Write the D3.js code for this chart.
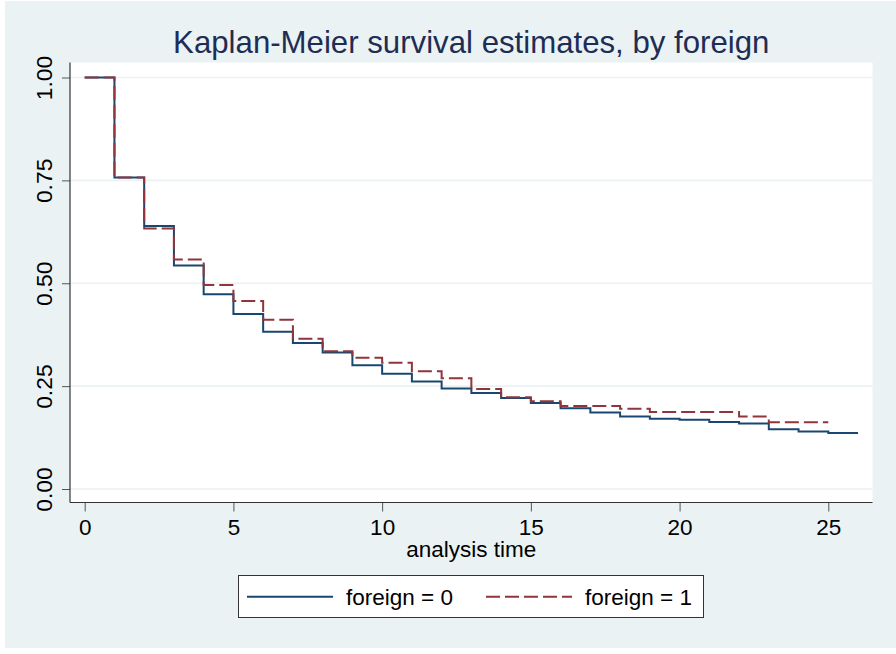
<!DOCTYPE html>
<html>
<head>
<meta charset="utf-8">
<script src="https://cdn.jsdelivr.net/npm/d3@7"></script>
<style>
  html, body { margin: 0; padding: 0; background: #ffffff; }
  svg { display: block; font-family: "Liberation Sans", Arial, Helvetica, sans-serif; }
</style>
</head>
<body>
<svg id="chart" width="896" height="654"></svg>
<script>
// ---- Data ----
const chartTitle = "Kaplan-Meier survival estimates, by foreign";
const xAxisTitle = "analysis time";
const seriesNames = ["foreign = 0", "foreign = 1"];

// foreign = 0: step times and survival estimate after each step
const times0 = [0, 1, 2, 3, 4, 5, 6, 7, 8, 9, 10, 11, 12, 13, 14, 15, 16, 17, 18, 19, 20, 21, 22, 23, 24, 25];
const surv0  = [1.000, 0.757, 0.639, 0.543, 0.473, 0.425, 0.382, 0.355, 0.332, 0.301, 0.280, 0.261, 0.244, 0.233, 0.221, 0.209, 0.196, 0.186, 0.176, 0.171, 0.168, 0.163, 0.159, 0.145, 0.140, 0.136];
const end0 = 26;

// foreign = 1
const times1 = [0, 1, 2, 3, 4, 5, 6, 7, 8, 9, 10, 11, 12, 13, 14, 15, 16, 18, 19, 22, 23];
const surv1  = [1.000, 0.757, 0.633, 0.558, 0.496, 0.457, 0.411, 0.365, 0.335, 0.319, 0.307, 0.286, 0.269, 0.243, 0.223, 0.213, 0.202, 0.195, 0.187, 0.176, 0.162];
const end1 = 25;

const xTicks = [0, 5, 10, 15, 20, 25];
const yTicks = [0, 0.25, 0.5, 0.75, 1];

// ---- Layout ----
const W = 896, H = 654;
const plot = { left: 70, right: 872.5, top: 62.5, bottom: 502.5 };
const colors = { bg: "#eaf2f3", blue: "#1a476f", red: "#90353b", title: "#1e2d53", grid: "#eaf2f3" };

const svg = d3.select("#chart");

// outer background panel
svg.append("rect").attr("x", 5).attr("y", 1).attr("width", 891).attr("height", 647).attr("fill", colors.bg);

// plot region
svg.append("rect")
  .attr("x", plot.left).attr("y", plot.top)
  .attr("width", plot.right - plot.left).attr("height", plot.bottom - plot.top)
  .attr("fill", "#ffffff");

const x = d3.scaleLinear().domain([0, 25]).range([84.7, 828.3]);
const y = d3.scaleLinear().domain([0, 1]).range([489, 77.5]);

// gridlines
svg.append("g").selectAll("line").data(yTicks).join("line")
  .attr("x1", plot.left).attr("x2", plot.right)
  .attr("y1", d => y(d)).attr("y2", d => y(d))
  .attr("stroke", colors.grid).attr("stroke-width", 1.6);

// title
svg.append("text")
  .attr("x", (plot.left + plot.right) / 2).attr("y", 53)
  .attr("text-anchor", "middle")
  .attr("font-size", 31.2).attr("fill", colors.title)
  .text(chartTitle);

// x axis
const xAxis = svg.append("g").attr("transform", `translate(0,${plot.bottom})`)
  .call(d3.axisBottom(x).tickValues(xTicks).tickSize(9).tickPadding(8).tickFormat(d3.format("d")));
xAxis.select(".domain").remove();
xAxis.selectAll(".tick line").attr("stroke", "#555").attr("stroke-width", 1);
xAxis.selectAll(".tick text").attr("font-size", 22.5).attr("fill", "#000")
  .attr("font-family", "Liberation Sans, Arial, sans-serif").attr("dy", "0.71em");
svg.append("line").attr("x1", plot.left).attr("x2", plot.right)
  .attr("y1", plot.bottom).attr("y2", plot.bottom).attr("stroke", "#333").attr("stroke-width", 1.2);

// y axis
const yAxis = svg.append("g").attr("transform", `translate(${plot.left},0)`)
  .call(d3.axisLeft(y).tickValues(yTicks).tickSize(8).tickFormat(d3.format(".2f")));
yAxis.select(".domain").remove();
yAxis.selectAll(".tick line").attr("stroke", "#555").attr("stroke-width", 1);
yAxis.selectAll(".tick text")
  .attr("font-size", 22.8).attr("fill", "#000")
  .attr("font-family", "Liberation Sans, Arial, sans-serif")
  .attr("x", null).attr("dy", null)
  .attr("text-anchor", "middle")
  .attr("transform", "translate(-18.5,0) rotate(-90)");
svg.append("line").attr("x1", plot.left).attr("x2", plot.left)
  .attr("y1", plot.top).attr("y2", plot.bottom).attr("stroke", "#333").attr("stroke-width", 1.2);

// axis title
svg.append("text")
  .attr("x", (plot.left + plot.right) / 2).attr("y", 557)
  .attr("text-anchor", "middle").attr("font-size", 22.5).attr("fill", "#000")
  .text(xAxisTitle);

// survival step lines
const line = d3.line().x(d => x(d[0])).y(d => y(d[1])).curve(d3.curveStepAfter);
function stepPoints(times, surv, end) {
  const pts = times.map((t, i) => [t, surv[i]]);
  pts.push([end, surv[surv.length - 1]]);
  return pts;
}
svg.append("path").datum(stepPoints(times0, surv0, end0))
  .attr("d", line).attr("fill", "none")
  .attr("stroke", colors.blue).attr("stroke-width", 2);
svg.append("path").datum(stepPoints(times1, surv1, end1))
  .attr("d", line).attr("fill", "none")
  .attr("stroke", colors.red).attr("stroke-width", 2).attr("stroke-dasharray", "14,5");

// legend
const lg = svg.append("g");
lg.append("rect").attr("x", 238.5).attr("y", 575.5).attr("width", 465).attr("height", 42)
  .attr("fill", "#fff").attr("stroke", "#333").attr("stroke-width", 1);
const legendItems = [
  { name: seriesNames[0], color: colors.blue, dash: null, x0: 247 },
  { name: seriesNames[1], color: colors.red, dash: "14,5", x0: 486 }
];
legendItems.forEach(it => {
  lg.append("line").attr("x1", it.x0).attr("x2", it.x0 + 86)
    .attr("y1", 596.7).attr("y2", 596.7)
    .attr("stroke", it.color).attr("stroke-width", 2)
    .attr("stroke-dasharray", it.dash);
  lg.append("text").attr("x", it.x0 + 99).attr("y", 604.5)
    .attr("font-size", 22.5).attr("fill", "#000").text(it.name);
});
</script>
</body>
</html>
